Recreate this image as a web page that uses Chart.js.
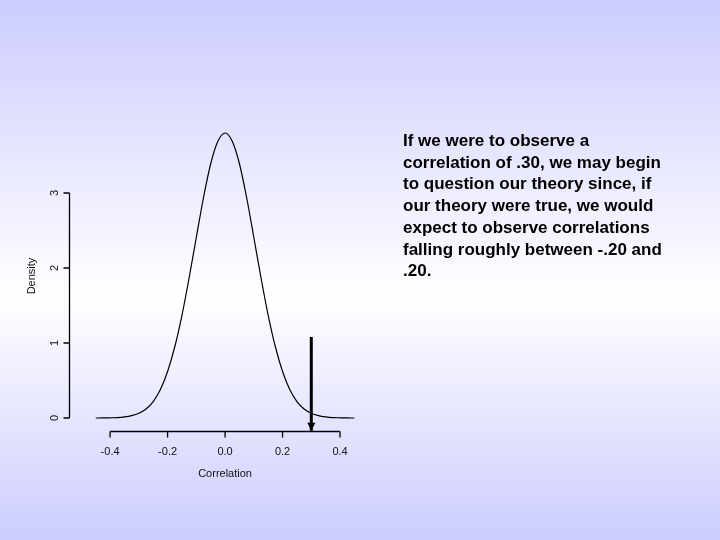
<!DOCTYPE html>
<html>
<head>
<meta charset="utf-8">
<script src="https://cdn.jsdelivr.net/npm/chart.js@4"></script>
<style>
  html, body { margin: 0; padding: 0; }
  body {
    width: 720px; height: 540px; overflow: hidden; position: relative;
    background: linear-gradient(to bottom, #ccccff 0%, #ffffff 55%, #ccccff 100%);
    font-family: "Liberation Sans", Arial, sans-serif;
  }
  #wrap { position: absolute; left: 0; top: 0; width: 720px; height: 540px; }
  #note {
    position: absolute; left: 403px; top: 130px;
    font-size: 17px; font-weight: bold; line-height: 21.7px; color: #000;
    white-space: nowrap;
  }
</style>
</head>
<body>
<div id="wrap"><canvas id="c" width="720" height="540"></canvas></div>
<div id="note">If we were to observe a<br>correlation of .30, we may begin<br>to question our theory since, if<br>our theory were true, we would<br>expect to observe correlations<br>falling roughly between -.20 and<br>.20.</div>
<script>
// Correlation values (x) and density
const correlation = [-0.45,-0.425,-0.40,-0.375,-0.35,-0.325,-0.30,-0.275,-0.25,-0.225,-0.20,-0.175,-0.15,-0.125,-0.10,-0.075,-0.05,-0.025,0.00,0.025,0.05,0.075,0.10,0.125,0.15,0.175,0.20,0.225,0.25,0.275,0.30,0.325,0.35,0.375,0.40,0.425,0.45];
const density = [0.000,0.001,0.003,0.006,0.015,0.032,0.064,0.12,0.22,0.38,0.62,0.95,1.37,1.87,2.41,2.94,3.39,3.69,3.80,3.69,3.39,2.94,2.41,1.87,1.37,0.95,0.62,0.38,0.22,0.12,0.064,0.032,0.015,0.006,0.003,0.001,0.000];
// Arrow marking the observed correlation
const arrowX = [0.30, 0.30];
const arrowY = [1.08, -0.17];
// Tick labels
const xTicks = [-0.4, -0.2, 0.0, 0.2, 0.4];
const xTickLabels = ["-0.4", "-0.2", "0.0", "0.2", "0.4"];
const yTicks = [0, 1, 2, 3];
const yTickLabels = ["0", "1", "2", "3"];
const xTitle = "Correlation";
const yTitle = "Density";

const curvePts = correlation.map((x, i) => ({ x: x, y: density[i] }));
const arrowPts = arrowX.map((x, i) => ({ x: x, y: arrowY[i] }));

const axesPlugin = {
  id: 'rAxes',
  afterDatasetsDraw(chart) {
    const ctx = chart.ctx;
    const xs = chart.scales.x, ys = chart.scales.y;
    const ca = chart.chartArea;
    ctx.save();
    ctx.strokeStyle = '#000';
    ctx.fillStyle = '#111';
    ctx.lineWidth = 1.3;
    // x axis
    const xb = Math.round(ca.bottom) + 0.5;
    ctx.beginPath();
    ctx.moveTo(xs.getPixelForValue(xTicks[0]), xb);
    ctx.lineTo(xs.getPixelForValue(xTicks[xTicks.length - 1]), xb);
    xTicks.forEach(v => {
      const px = xs.getPixelForValue(v);
      ctx.moveTo(px, xb); ctx.lineTo(px, xb + 6);
    });
    ctx.stroke();
    ctx.font = '11px "Liberation Sans", Arial, sans-serif';
    ctx.textAlign = 'center'; ctx.textBaseline = 'middle';
    xTicks.forEach((v, i) => ctx.fillText(xTickLabels[i], xs.getPixelForValue(v), xb + 20));
    ctx.fillText(xTitle, xs.getPixelForValue(0), xb + 42);
    // y axis
    const yl = Math.round(ca.left) + 0.5;
    ctx.beginPath();
    ctx.moveTo(yl, ys.getPixelForValue(yTicks[0]));
    ctx.lineTo(yl, ys.getPixelForValue(yTicks[yTicks.length - 1]));
    yTicks.forEach(v => {
      const py = ys.getPixelForValue(v);
      ctx.moveTo(yl, py); ctx.lineTo(yl - 6, py);
    });
    ctx.stroke();
    yTicks.forEach((v, i) => {
      ctx.save();
      ctx.translate(yl - 15, ys.getPixelForValue(v));
      ctx.rotate(-Math.PI / 2);
      ctx.fillText(yTickLabels[i], 0, 0);
      ctx.restore();
    });
    ctx.save();
    ctx.translate(yl - 38, (ca.top + ca.bottom) / 2 + 0);
    ctx.rotate(-Math.PI / 2);
    ctx.fillText(yTitle, 0, 0);
    ctx.restore();
    // arrow head
    const tipX = xs.getPixelForValue(arrowX[1]);
    const tipY = ys.getPixelForValue(arrowY[1]);
    ctx.fillStyle = '#000';
    ctx.beginPath();
    ctx.moveTo(tipX, tipY);
    ctx.lineTo(tipX - 4, tipY - 8);
    ctx.lineTo(tipX + 4, tipY - 8);
    ctx.closePath();
    ctx.fill();
    ctx.restore();
  }
};

new Chart(document.getElementById('c'), {
  type: 'line',
  data: {
    datasets: [
      { data: curvePts, borderColor: '#000', borderWidth: 1.2, pointRadius: 0, fill: false, cubicInterpolationMode: 'monotone' },
      { data: arrowPts, borderColor: '#000', borderWidth: 3, pointRadius: 0, fill: false }
    ]
  },
  options: {
    responsive: false,
    animation: false,
    events: [],
    layout: { padding: { left: 69, right: 338, top: 121, bottom: 109 } },
    plugins: { legend: { display: false }, tooltip: { enabled: false } },
    scales: {
      x: { type: 'linear', min: -0.543, max: 0.546, display: false },
      y: { type: 'linear', min: -0.173, max: 3.96, display: false }
    }
  },
  plugins: [axesPlugin]
});
</script>
</body>
</html>
